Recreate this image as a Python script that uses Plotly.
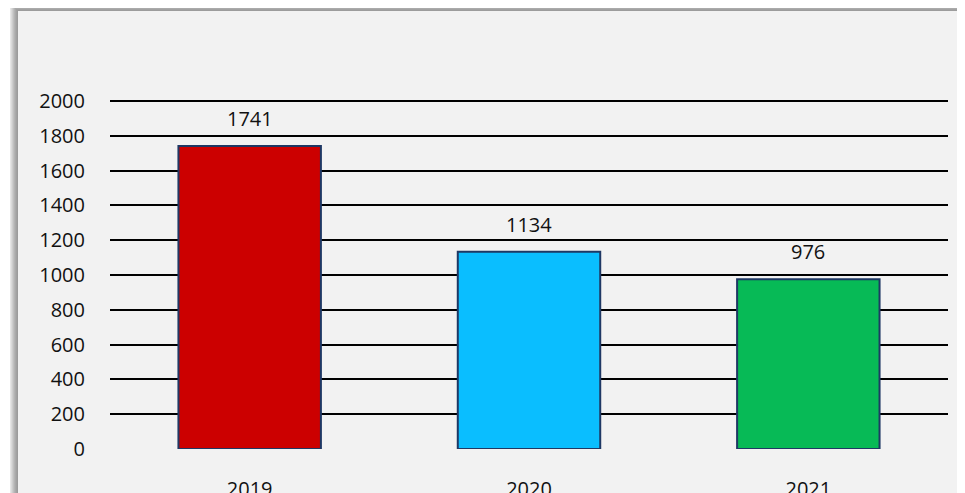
import plotly.graph_objects as go

years = ["2019", "2020", "2021"]
values = [1741, 1134, 976]
bar_colors = ["#CC0000", "#0ABEFF", "#07BA56"]
y_ticks = [0, 200, 400, 600, 800, 1000, 1200, 1400, 1600, 1800, 2000]

# the page body adds an 8px offset; figure sized to fill the rest of the window
W, H = 957, 485
FONT = "Open Sans"
L, R, T, B = 102, 17, 92, 44
PW, PH = W - L - R, H - T - B


def px(fx):
    return (fx - L) / PW


def py(fy):
    return (H - B - fy) / PH


fig = go.Figure()
fig.add_trace(go.Bar(
    x=years, y=values,
    marker=dict(color=bar_colors, line=dict(color="#1F3864", width=2)),
    cliponaxis=False, width=0.51,
))
# value labels above bars (category index positions on the category axis)
for i, v in enumerate(values):
    fig.add_annotation(x=i, y=v, xref="x", yref="y", text=str(v), showarrow=False,
                       yanchor="bottom", yshift=12,
                       font=dict(family=FONT, size=20, color="#111111"))

shapes = []
# soft shadow on the left and top of the panel
shadow = ["#E6E6E6", "#DADADA", "#CDCDCD", "#C0C0C0", "#B4B4B4", "#AAAAAA", "#A2A2A2", "#9C9C9C"]
for i, c in enumerate(shadow):
    k = 8 - i
    shapes.append(dict(type="rect", xref="paper", yref="paper",
                       x0=px(10 - k), x1=px(W + 10), y0=py(H + 10), y1=py(3 - k),
                       fillcolor=c, line_width=0, layer="below"))
shapes.append(dict(type="rect", xref="paper", yref="paper",
                   x0=px(10), x1=px(W + 10), y0=py(H + 10), y1=py(3),
                   fillcolor="#F2F2F2", line_width=0, layer="below"))
fig.update_layout(shapes=shapes)

fig.update_layout(
    width=W, height=H,
    paper_bgcolor="white", plot_bgcolor="rgba(0,0,0,0)",
    margin=dict(l=L, r=R, t=T, b=B, autoexpand=False),
    showlegend=False,
    font=dict(family=FONT, size=20, color="#111111"),
    xaxis=dict(type="category", range=[-0.5, len(years) - 0.5],
               showgrid=False, showline=False, ticks="", zeroline=False,
               ticklabelstandoff=26, tickfont=dict(size=20)),
    yaxis=dict(range=[0, 2006], tickvals=y_ticks, showgrid=True,
               gridcolor="#000000", gridwidth=1.5, zeroline=True,
               zerolinecolor="#F2F2F2", zerolinewidth=3, showline=False,
               ticks="", ticklabelstandoff=24, tickfont=dict(size=20)),
)

fig.write_html("out.html")
